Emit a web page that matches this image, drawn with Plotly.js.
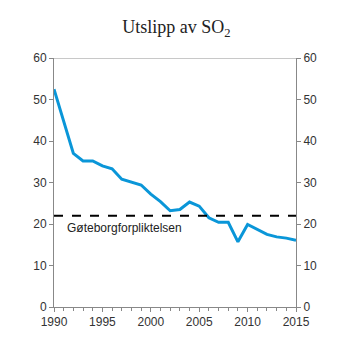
<!DOCTYPE html>
<html><head><meta charset="utf-8">
<script src="https://cdn.plot.ly/plotly-3.0.1.min.js"></script>
<style>html,body{margin:0;padding:0;background:#fff}</style>
</head><body><div id="chart" style="width:353px;height:353px"></div>
<script>
const years = [1990,1991,1992,1993,1994,1995,1996,1997,1998,1999,2000,2001,2002,2003,2004,2005,2006,2007,2008,2009,2010,2011,2012,2013,2014,2015];
const so2 = [52.5,44.7,37.0,35.2,35.2,34.0,33.3,30.8,30.1,29.4,27.2,25.4,23.2,23.5,25.3,24.3,21.5,20.4,20.4,15.7,19.9,18.7,17.5,16.9,16.6,16.1];
const targetYears = [1990,2015];
const targetValue = [22,22];
const targetLabel = "Gøteborgforpliktelsen";
const yTicks = [0,10,20,30,40,50,60];
const xTicks = [1990,1995,2000,2005,2010,2015];

const tickFont = {family:"Liberation Sans, Arial, sans-serif", size:12, color:"#333"};
const traces = [
  {x: years, y: so2, type:"scatter", mode:"lines", line:{color:"#0a96d8", width:3}, hoverinfo:"none"},
  {x: targetYears, y: targetValue, type:"scatter", mode:"lines", line:{color:"#000", width:2, dash:"dash"}, hoverinfo:"none"},
  {x: [years[0]], y: [0], yaxis:"y2", type:"scatter", mode:"markers", marker:{opacity:0}, hoverinfo:"none"}
];
const yBase = {range:[0,60], tickvals:yTicks, showgrid:false, zeroline:false, showline:true, linecolor:"#888", linewidth:1, ticks:"outside", ticklen:4, tickcolor:"#888", tickfont:tickFont, fixedrange:true};
const layout = {
  width:353, height:353, showlegend:false,
  margin:{l:54, r:57, t:58, b:46},
  paper_bgcolor:"#fff", plot_bgcolor:"#fff",
  title:{text:"Utslipp av SO<sub>2</sub>", font:{family:"Liberation Serif, Times New Roman, serif", size:18, color:"#222"}, x:0.5, xanchor:"center", y:0.925, yanchor:"middle"},
  xaxis:{range:[1990,2015], tickvals:xTicks, showgrid:false, zeroline:false, showline:true, linecolor:"#888", linewidth:1, ticks:"outside", ticklen:4, tickcolor:"#888", tickfont:tickFont,
    minor:{dtick:1, tick0:1990, ticks:"outside", ticklen:3, tickcolor:"#888", showgrid:false}},
  yaxis: Object.assign({}, yBase, {side:"left"}),
  yaxis2: Object.assign({}, yBase, {side:"right", overlaying:"y"}),
  shapes:[{type:"line", xref:"paper", yref:"y", x0:-0.01, x1:1.02, y0:60, y1:60, line:{color:"#c8c8c8", width:2}, layer:"below"}],
  annotations:[{x:1991.1, y:targetValue[0], xref:"x", yref:"y", text:targetLabel, showarrow:false, xanchor:"left", yanchor:"top", yshift:-3, font:{family:"Liberation Sans, Arial, sans-serif", size:12, color:"#222"}}]
};
Plotly.newPlot("chart", traces, layout, {staticPlot:true, displayModeBar:false});
</script></body></html>
